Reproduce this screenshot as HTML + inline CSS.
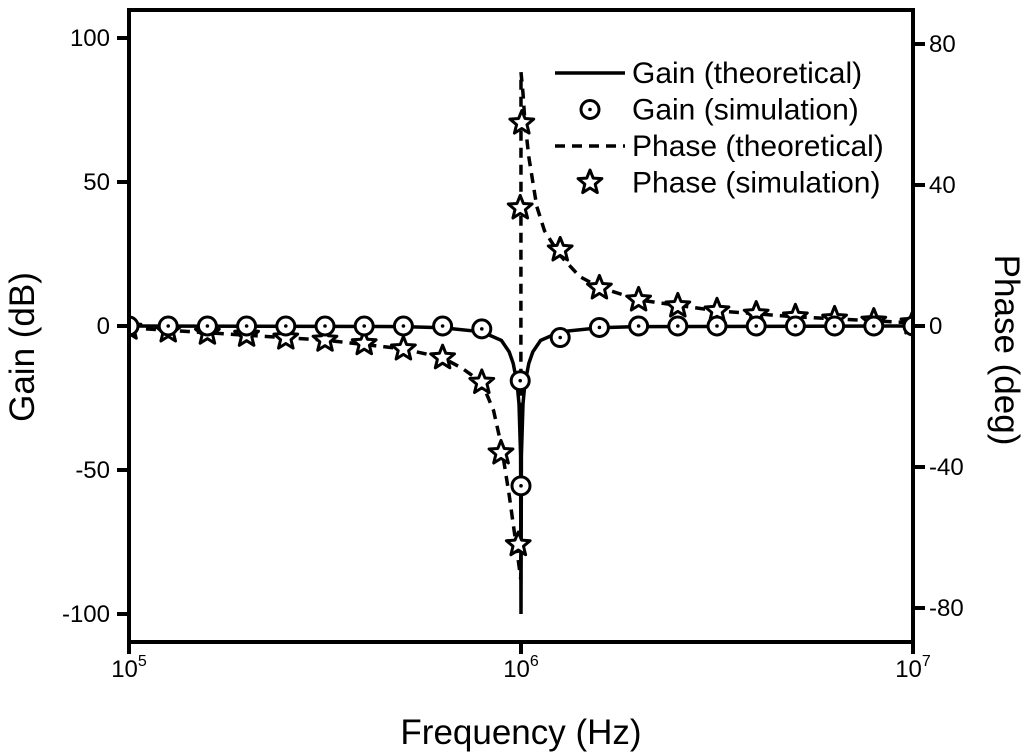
<!DOCTYPE html>
<html><head><meta charset="utf-8"><style>
html,body{margin:0;padding:0;background:#fff;}
svg{display:block;font-family:"Liberation Sans",Arial,sans-serif;}
</style></head><body>
<svg id="chart" width="1024" height="756" viewBox="0 0 1024 756" xmlns="http://www.w3.org/2000/svg">
<defs><clipPath id="clip"><rect x="129" y="10" width="784" height="632"/></clipPath></defs>
<g id="plot" clip-path="url(#clip)"></g>
<g id="axes"></g>
<g id="legend"></g>
</svg>
<script>
// ---- data (log10 frequency, value) ----
const gainTheoryLogF = [5,5.7,5.8,5.9,5.95,5.97,5.98,5.99,5.995,5.999,6.0,6.001,6.005,6.01,6.02,6.03,6.05,6.1,6.2,6.3,7];
const gainTheoryDb   = [0,-0.2,-0.6,-2,-5,-9,-13,-20,-27,-45,-100,-45,-27,-20,-13,-9,-5,-2,-0.6,-0.2,0];
const gainSimLogF = [5.0,5.1,5.2,5.3,5.4,5.5,5.6,5.7,5.8,5.9,5.998,6.0,6.1,6.2,6.3,6.4,6.5,6.6,6.7,6.8,6.9,7.0];
const gainSimDb   = [0,0,0,0,0,0,0,0,0,-1,-19,-55.5,-4,-0.5,0,0,0,0,0,0,0,0];
const phaseTheoryLogF = [5,5.3,5.5,5.7,5.8,5.85,5.9,5.93,5.95,5.97,5.985,5.995,5.9995,6.0,6.005,6.01,6.02,6.04,6.06,6.1,6.15,6.2,6.3,6.5,6.7,7];
const phaseTheoryDeg  = [-0.5,-2.6,-4,-6.5,-9,-12,-16,-24,-34,-48,-60,-68,-72,72,66,58,48,34,27,20,14,11,7.4,4.3,2.6,0.9];
const phaseSimLogF = [5.0,5.1,5.2,5.3,5.4,5.5,5.6,5.7,5.8,5.9,5.949,5.993,5.998,6.002,6.1,6.2,6.3,6.4,6.5,6.6,6.7,6.8,6.9,7.0];
const phaseSimDeg  = [-0.6,-1.4,-2,-2.6,-3.4,-4,-5,-6.5,-9,-16,-36,-62,33.5,57.6,21.6,10.8,7.4,5.7,4.3,3.4,2.6,2,1.4,0.9];
const xTickExps = [5,6,7];
const gainTicks = [100,50,0,-50,-100];
const phaseTicks = [80,40,0,-40,-80];

// ---- axes functions ----
const X0=129,X1=913,Y0=10,Y1=642;
const xS = lf => X0 + (lf-5)/2*(X1-X0);
const yG = v => 326 - v*2.88;
const yP = v => 326 - v*3.525;
const NS="http://www.w3.org/2000/svg";
function mk(tag, attrs, parent){const e=document.createElementNS(NS,tag);for(const k in attrs)e.setAttribute(k,attrs[k]);parent.appendChild(e);return e;}
const plot=document.getElementById('plot'), axes=document.getElementById('axes'), leg=document.getElementById('legend');

function pathD(xs,ys,fy){return xs.map((x,i)=>(i?'L':'M')+xS(x).toFixed(1)+','+fy(ys[i]).toFixed(1)).join(' ');}
let p=mk('path',{d:pathD(phaseTheoryLogF,phaseTheoryDeg,yP),fill:'none',stroke:'#000','stroke-width':3.5,'stroke-dasharray':'10,7'},plot);


p=mk('path',{d:pathD(gainTheoryLogF,gainTheoryDb,yG),fill:'none',stroke:'#000','stroke-width':3.5},plot);



function starPts(cx,cy,R,r){let s=[];for(let i=0;i<10;i++){const a=-Math.PI/2+i*Math.PI/5;const rr=i%2?r:R;s.push((cx+rr*Math.cos(a)).toFixed(1)+','+(cy+rr*Math.sin(a)).toFixed(1));}return s.join(' ');}
function circleMark(cx,cy,g){mk('circle',{cx,cy,r:9,fill:'#fff',stroke:'#000','stroke-width':3},g);mk('circle',{cx,cy,r:1.8,fill:'#000'},g);}
function starMark(cx,cy,g){mk('polygon',{points:starPts(cx,cy,12.5,5.5),fill:'#fff',stroke:'#000','stroke-width':3,'stroke-linejoin':'round'},g);}

phaseSimLogF.forEach((lf,i)=>{const g=mk('g',{},plot);


starMark(xS(lf),yP(phaseSimDeg[i]),g);});
gainSimLogF.forEach((lf,i)=>{const g=mk('g',{},plot);


circleMark(xS(lf),yG(gainSimDb[i]),g);});

// frame
mk('rect',{x:X0,y:Y0,width:X1-X0,height:Y1-Y0,fill:'none',stroke:'#000','stroke-width':4},axes);
xTickExps.forEach(e=>{const x=xS(e);mk('line',{x1:x,y1:Y1,x2:x,y2:Y1+12,stroke:'#000','stroke-width':4},axes);
const t=mk('text',{x:x,y:677,'font-size':24,'text-anchor':'middle'},axes);


t.innerHTML='10<tspan dy="-11" font-size="16">'+e+'</tspan>';});
gainTicks.forEach(v=>{const y=yG(v);mk('line',{x1:X0-12,y1:y,x2:X0,y2:y,stroke:'#000','stroke-width':4},axes);
const t=mk('text',{x:110,y:y+8,'font-size':24,'text-anchor':'end'},axes);


t.textContent=v;});
phaseTicks.forEach(v=>{const y=yP(v);mk('line',{x1:X1,y1:y,x2:X1+12,y2:y,stroke:'#000','stroke-width':4},axes);
const t=mk('text',{x:929,y:y+8,'font-size':24,'text-anchor':'start'},axes);


t.textContent=v;});
let t=mk('text',{x:521,y:744,'font-size':35,'text-anchor':'middle'},axes);


t.textContent='Frequency (Hz)';
t=mk('text',{x:0,y:0,'font-size':35,'text-anchor':'middle',transform:'translate(34,347) rotate(-90)'},axes);


t.textContent='Gain (dB)';
t=mk('text',{x:0,y:0,'font-size':35,'text-anchor':'middle',transform:'translate(995,350) rotate(90)'},axes);


t.textContent='Phase (deg)';

// legend
const labels=['Gain (theoretical)','Gain (simulation)','Phase (theoretical)','Phase (simulation)'];
labels.forEach((s,i)=>{const y=73+i*36.5;const g=mk('g',{},leg);


if(i==0)mk('line',{x1:555,y1:y,x2:625,y2:y,stroke:'#000','stroke-width':3.5},g);
if(i==1)circleMark(590,y,g);
if(i==2)mk('line',{x1:555,y1:y,x2:625,y2:y,stroke:'#000','stroke-width':3.5,'stroke-dasharray':'10,7'},g);
if(i==3)starMark(590,y,g);
const tx=mk('text',{x:632,y:y+10,'font-size':30},g);tx.textContent=s;});
</script>
</body></html>
